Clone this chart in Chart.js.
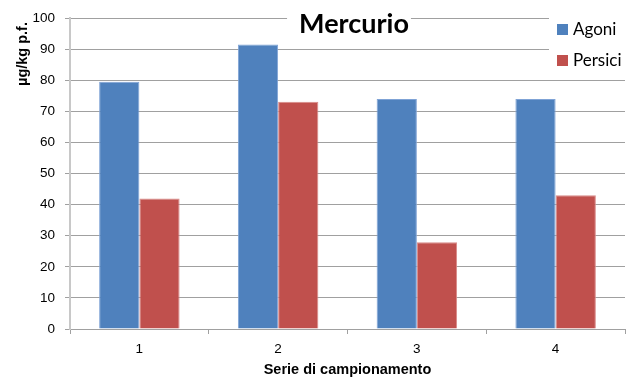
<!DOCTYPE html>
<html><head><meta charset="utf-8">
<script src="https://cdn.jsdelivr.net/npm/chart.js@4/dist/chart.umd.min.js"></script>
<style>html,body{margin:0;padding:0;background:#fff;}#wrap{width:633px;height:379px;}</style>
</head><body><div id="wrap"><canvas id="c" width="633" height="379"></canvas></div>
<script>
const categories = ["1", "2", "3", "4"];
const agoni = [79.5, 91.5, 74, 74];
const persici = [42, 73.1, 27.9, 43];
const seriesNames = ["Agoni", "Persici"];
const chartTitle = "Mercurio";
const yTitle = "µg/kg p.f.";
const xTitle = "Serie di campionamento";

const overlay = {
  id: 'overlay',
  afterDatasetsDraw(chart) {
    const ctx = chart.ctx;
    ctx.save();
    // title
    ctx.font = 'bold 27px Lato';
    const tw = ctx.measureText(chartTitle).width;
    const cx = 354;
    ctx.fillStyle = '#fff';
    ctx.fillRect(cx - tw/2 - 12, 6, tw + 14, 30);
    ctx.fillStyle = '#000';
    ctx.textAlign = 'center';
    ctx.textBaseline = 'alphabetic';
    ctx.fillText(chartTitle, cx, 33);
    // legend
    ctx.fillStyle = '#fff';
    ctx.fillRect(549, 10, 84, 62);
    ctx.font = '17px Lato';
    ctx.textAlign = 'left';
    ctx.textBaseline = 'middle';
    chart.data.datasets.forEach((ds, i) => {
      const y = 29 + i * 31;
      ctx.fillStyle = ds.backgroundColor;
      ctx.fillRect(557, y - 5, 11, 11);
      ctx.fillStyle = '#000';
      ctx.fillText(ds.label, 573, y + 1);
    });
    // y axis title
    ctx.translate(23, 54);
    ctx.rotate(-Math.PI / 2);
    ctx.font = 'bold 14.5px "Liberation Sans"';
    ctx.textAlign = 'center';
    ctx.fillText(yTitle, 0, 0);
    ctx.restore();
  }
};

new Chart(document.getElementById('c'), {
  type: 'bar',
  data: {
    labels: categories,
    datasets: [
      { label: seriesNames[0], data: agoni, backgroundColor: '#4F81BD', borderColor: '#7FA3D6', borderWidth: 1 },
      { label: seriesNames[1], data: persici, backgroundColor: '#C0504D', borderColor: '#D98A88', borderWidth: 1 }
    ]
  },
  options: {
    responsive: false,
    animation: false,
    devicePixelRatio: 1,
    layout: { padding: { top: 17, right: 8, left: 0, bottom: 0 } },
    datasets: { bar: { categoryPercentage: 0.58, barPercentage: 1.0 } },
    plugins: { legend: { display: false }, title: { display: false }, tooltip: { enabled: false } },
    scales: {
      x: {
        grid: { offset: true, drawOnChartArea: false, drawTicks: true, tickLength: 5, color: '#A0A0A0' },
        border: { color: '#A0A0A0', width: 1 },
        ticks: { color: '#000', font: { family: 'Liberation Sans', size: 13.5 }, padding: 7 },
        title: { display: true, text: xTitle, color: '#000', font: { family: 'Liberation Sans', size: 14.5, weight: 'bold' }, padding: { top: 2, bottom: 0 } },
        afterFit(s) { s.height = 50; }
      },
      y: {
        min: 0, max: 100,
        ticks: { stepSize: 10, color: '#000', font: { family: 'Liberation Sans', size: 13.5 }, padding: 10 },
        grid: { color: '#A0A0A0', tickLength: 5 },
        border: { color: '#C8C8C8', width: 2 },
        afterFit(s) { s.width = 70; }
      }
    }
  },
  plugins: [overlay]
});
</script></body></html>
